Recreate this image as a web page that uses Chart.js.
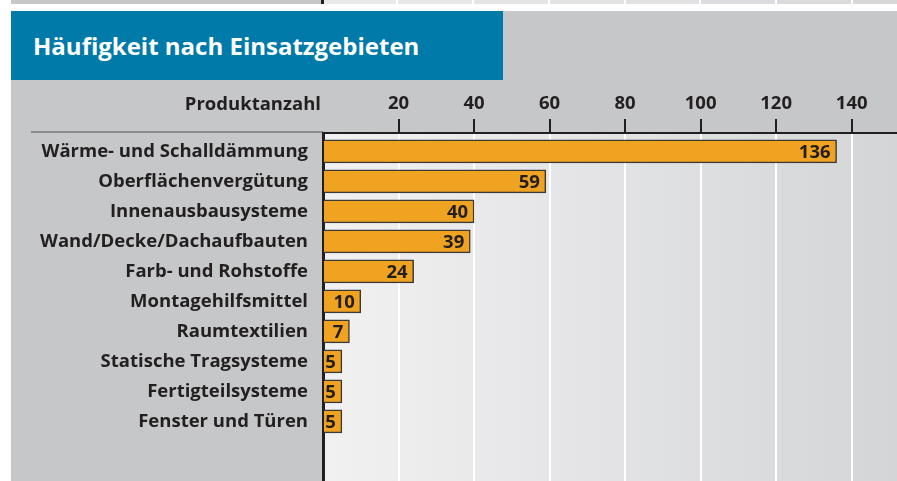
<!DOCTYPE html>
<html>
<head>
<meta charset="utf-8">
<script src="https://cdn.jsdelivr.net/npm/chart.js@4"></script>
<style>
  body { margin: 0; background: #fff; }
  #wrap { position: relative; width: 897px; height: 481px; overflow: hidden; }
  #strip { position: absolute; left: 11px; top: 0; width: 886px; height: 4px;
           background: linear-gradient(90deg, #c6c7c9 0 310px, #231f20 310px 313px, #e8e9ea 313px 385px, #fff 385px 387px, #e6e7e8 387px 461px, #fff 461px 463px, #e4e5e6 463px 537px, #fff 537px 539px, #e2e3e4 539px 613px, #fff 613px 615px, #e0e1e2 615px 688px, #fff 688px 690px, #dcdde0 690px 764px, #fff 764px 766px, #d9dadc 766px 840px, #fff 840px 842px, #d6d7d9 842px); }
  #panel { position: absolute; left: 11px; top: 11px; width: 886px; height: 470px; background: #c6c7c9; }
  #title { position: absolute; left: 11px; top: 11px; width: 470px; height: 69px; padding-left: 22px;
           background: #007aa8; color: #fff; font: bold 24px 'Open Sans', sans-serif; line-height: 69px; white-space: nowrap; }
  canvas { position: absolute; left: 0; top: 0; }
</style>
</head>
<body>
<div id="wrap">
  <div id="strip"></div>
  <div id="panel"></div>
  <div id="title">Häufigkeit nach Einsatzgebieten</div>
  <canvas id="chart" width="897" height="481"></canvas>
</div>
<script>
const categories = [
    'Wärme- und Schalldämmung',
    'Oberflächenvergütung',
    'Innenausbausysteme',
    'Wand/Decke/Dachaufbauten',
    'Farb- und Rohstoffe',
    'Montagehilfsmittel',
    'Raumtextilien',
    'Statische Tragsysteme',
    'Fertigteilsysteme',
    'Fenster und Türen'
];
const counts = [136, 59, 40, 39, 24, 10, 7, 5, 5, 5];
const xTicks = [0, 20, 40, 60, 80, 100, 120, 140];
const axisName = 'Produktanzahl';

const textColor = '#231f20';
const labelFont = { family: 'Open Sans', weight: 'bold', size: 18.5 };

// plot background + separator line on the left
const backgroundPlugin = {
    id: 'plotBackground',
    beforeDraw(chart) {
        const { ctx, chartArea } = chart;
        const grad = ctx.createLinearGradient(chartArea.left, 0, chartArea.right, 0);
        grad.addColorStop(0, '#f1f1f2');
        grad.addColorStop(1, '#d4d5d7');
        ctx.save();
        ctx.fillStyle = grad;
        ctx.fillRect(chartArea.left, chartArea.top, chartArea.right - chartArea.left, chartArea.bottom - chartArea.top);
        ctx.strokeStyle = '#8c8c8e';
        ctx.lineWidth = 2;
        ctx.beginPath();
        ctx.moveTo(31, chartArea.top - 1);
        ctx.lineTo(chartArea.left, chartArea.top - 1);
        ctx.stroke();
        ctx.restore();
    }
};

// numbers inside the bars and the axis name
const labelPlugin = {
    id: 'barLabels',
    afterDatasetsDraw(chart) {
        const { ctx, chartArea } = chart;
        const meta = chart.getDatasetMeta(0);
        ctx.save();
        ctx.fillStyle = textColor;
        ctx.font = 'bold 18.5px "Open Sans"';
        ctx.textAlign = 'right';
        ctx.textBaseline = 'middle';
        meta.data.forEach((bar, i) => {
            ctx.fillText(counts[i], bar.x - 6, bar.y + 1);
        });
        ctx.fillText(axisName, chartArea.left - 2, chartArea.top - 28);
        ctx.restore();
    }
};

const ctx = document.getElementById('chart').getContext('2d');
new Chart(ctx, {
    type: 'bar',
    data: {
        datasets: [{
            data: counts.map((v, i) => ({ x: v, y: i })),
            backgroundColor: '#efa321',
            borderColor: '#3c3a38',
            borderWidth: 1.5,
            borderSkipped: 'start',
            barThickness: 23
        }]
    },
    options: {
        indexAxis: 'y',
        responsive: false,
        animation: false,
        layout: { padding: 0 },
        plugins: {
            legend: { display: false },
            tooltip: { enabled: false }
        },
        scales: {
            x: {
                type: 'linear',
                position: 'top',
                min: 0,
                max: 152,
                afterBuildTicks: scale => { scale.ticks = xTicks.map(v => ({ value: v })); },
                afterFit: scale => { scale.height = 133; scale.paddingLeft = 0; scale.paddingRight = 0; },
                grid: {
                    color: c => (c.tick && c.tick.value === 0) ? 'rgba(0,0,0,0)' : '#ffffff',
                    lineWidth: 2,
                    tickLength: 14,
                    tickWidth: 2,
                    tickColor: c => (c.tick && c.tick.value === 0) ? 'rgba(0,0,0,0)' : textColor
                },
                border: { color: textColor, width: 2 },
                ticks: {
                    callback: v => v === 0 ? '' : v,
                    font: labelFont,
                    color: textColor,
                    padding: 4,
                    maxRotation: 0
                }
            },
            y: {
                type: 'linear',
                reverse: true,
                offset: false,
                min: -0.61,
                max: 10.99,
                z: 1,
                afterBuildTicks: scale => { scale.ticks = categories.map((_, i) => ({ value: i })); },
                afterFit: scale => { scale.width = 323; scale.paddingTop = 0; scale.paddingBottom = 0; },
                grid: { display: false, drawTicks: false, offset: false },
                border: { color: textColor, width: 3 },
                ticks: {
                    callback: v => categories[v],
                    font: labelFont,
                    color: textColor,
                    padding: 15
                }
            }
        }
    },
    plugins: [backgroundPlugin, labelPlugin]
});
</script>
</body>
</html>
